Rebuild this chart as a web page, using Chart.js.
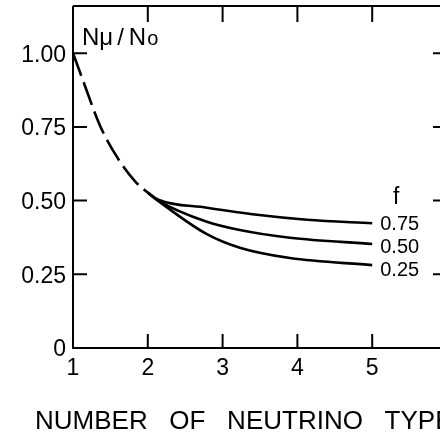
<!DOCTYPE html>
<html>
<head>
<meta charset="utf-8">
<script src="https://cdn.jsdelivr.net/npm/chart.js@4"></script>
<style>
  html, body { margin: 0; padding: 0; background: #fff; overflow: hidden; }
  #wrap { width: 440px; height: 434px; overflow: hidden; }
</style>
</head>
<body>
<div id="wrap"><canvas id="chart" width="480" height="434"></canvas></div>
<script>
const xTitle = 'NUMBER   OF   NEUTRINO   TYPES';
const xTickValues = [1, 2, 3, 4, 5];
const xTickLabels = ['1', '2', '3', '4', '5'];
const yTickValues = [0, 0.25, 0.5, 0.75, 1.0];
const yTickLabels = ['0', '0.25', '0.50', '0.75', '1.00'];

// common dashed part, N = 1..2
const dashedX = [1, 1.13, 1.36, 1.6, 1.83, 2.0];
const dashedY = [1.0, 0.91, 0.755, 0.643, 0.565, 0.527];

// one solid curve for each f
const fLabels = ['0.75', '0.50', '0.25'];
const curveX = [
    [2.0, 2.14, 2.79, 3.46, 4.13, 5.0],
    [2.0, 2.14, 2.79, 3.23, 3.9, 5.0],
    [2.0, 2.14, 2.79, 3.23, 3.9, 5.0],
];
const curveY = [
    [0.527, 0.503, 0.476, 0.452, 0.435, 0.423],
    [0.527, 0.500, 0.428, 0.400, 0.374, 0.353],
    [0.527, 0.499, 0.386, 0.340, 0.305, 0.281],
];

const FONT = "'Liberation Sans', Arial, sans-serif";
Chart.defaults.font.family = FONT;
Chart.defaults.color = '#000';

function points(xs, ys) {
    return xs.map((x, i) => ({x: x, y: ys[i]}));
}

const datasets = [{
    data: points(dashedX, dashedY),
    borderColor: '#000',
    borderWidth: 2.6,
    borderDash: [24, 7],
    pointRadius: 0,
    cubicInterpolationMode: 'monotone',
}];
for (let i = 0; i < fLabels.length; i++) {
    datasets.push({
        label: fLabels[i],
        data: points(curveX[i], curveY[i]),
        borderColor: '#000',
        borderWidth: 2.6,
        pointRadius: 0,
        cubicInterpolationMode: 'monotone',
    });
}

// frame with inward ticks, plus the texts inside the plot
const framePlugin = {
    id: 'frame',
    afterDraw(chart) {
        const {ctx, chartArea: a, scales: {x, y}} = chart;
        ctx.save();
        ctx.strokeStyle = '#000';
        ctx.lineWidth = 2;
        ctx.beginPath();
        ctx.moveTo(a.left, a.top);
        ctx.lineTo(a.right, a.top);
        ctx.lineTo(a.right, a.bottom);
        ctx.lineTo(a.left, a.bottom);
        ctx.lineTo(a.left, a.top);
        xTickValues.slice(1).forEach(v => {
            const px = x.getPixelForValue(v);
            ctx.moveTo(px, a.bottom);
            ctx.lineTo(px, a.bottom - 14);
            ctx.moveTo(px, a.top);
            ctx.lineTo(px, a.top + 16);
        });
        yTickValues.slice(1).forEach(v => {
            const py = y.getPixelForValue(v);
            ctx.moveTo(a.left, py);
            ctx.lineTo(a.left + 14, py);
            ctx.moveTo(a.right, py);
            ctx.lineTo(a.right - 14, py);
        });
        ctx.stroke();

        ctx.fillStyle = '#000';
        ctx.textBaseline = 'alphabetic';
        ctx.textAlign = 'left';

        // N_mu / N_o
        const parts = [['N', 24, 0], ['\u03bc', 24, 0], ['/', 24, 4], ['N', 24, 5], ['o', 20, 1]];
        let tx = a.left + 9;
        const ty = a.top + 39;
        parts.forEach(p => {
            ctx.font = p[1] + 'px ' + FONT;
            tx += p[2];
            ctx.fillText(p[0], tx, ty);
            tx += ctx.measureText(p[0]).width;
        });

        // f and the curve labels
        const endX = x.getPixelForValue(5);
        ctx.font = '23px ' + FONT;
        ctx.textAlign = 'center';
        ctx.fillText('f', endX + 24, y.getPixelForValue(0.49));
        ctx.font = '20px ' + FONT;
        ctx.textAlign = 'left';
        ctx.textBaseline = 'middle';
        const shift = [1, 4, 5];
        for (let i = 0; i < fLabels.length; i++) {
            const ys = curveY[i];
            ctx.fillText(fLabels[i], endX + 8, y.getPixelForValue(ys[ys.length - 1]) + shift[i]);
        }

        // axis title, wider than the plot so drawn here without a max width
        ctx.font = '26px ' + FONT;
        ctx.textBaseline = 'alphabetic';
        ctx.fillText(xTitle, 35, a.bottom + 81);
        ctx.restore();
    },
};

new Chart(document.getElementById('chart'), {
    type: 'line',
    data: {datasets: datasets},
    plugins: [framePlugin],
    options: {
        responsive: false,
        animation: false,
        devicePixelRatio: 1,
        layout: {padding: {top: 6, right: 33, bottom: 0, left: 0}},
        plugins: {
            legend: {display: false},
            tooltip: {enabled: false},
        },
        scales: {
            x: {
                type: 'linear',
                min: 1,
                max: 6,
                grid: {display: false, drawTicks: false},
                border: {display: false},
                afterBuildTicks: s => { s.ticks = xTickValues.map(v => ({value: v})); },
                afterFit: s => { s.height = 86; s.paddingLeft = 0; s.paddingRight = 0; },
                ticks: {
                    autoSkip: false,
                    maxRotation: 0,
                    padding: 7,
                    font: {size: 23},
                    callback: v => xTickLabels[xTickValues.indexOf(v)],
                },
            },
            y: {
                min: 0,
                max: 1.16,
                grid: {display: false, drawTicks: false},
                border: {display: false},
                afterBuildTicks: s => { s.ticks = yTickValues.map(v => ({value: v})); },
                afterFit: s => { s.width = 73; s.paddingTop = 0; s.paddingBottom = 0; },
                ticks: {
                    autoSkip: false,
                    padding: 7,
                    labelOffset: 2,
                    font: {size: 23},
                    callback: v => yTickLabels[yTickValues.indexOf(v)],
                },
            },
        },
    },
});
</script>
</body>
</html>
